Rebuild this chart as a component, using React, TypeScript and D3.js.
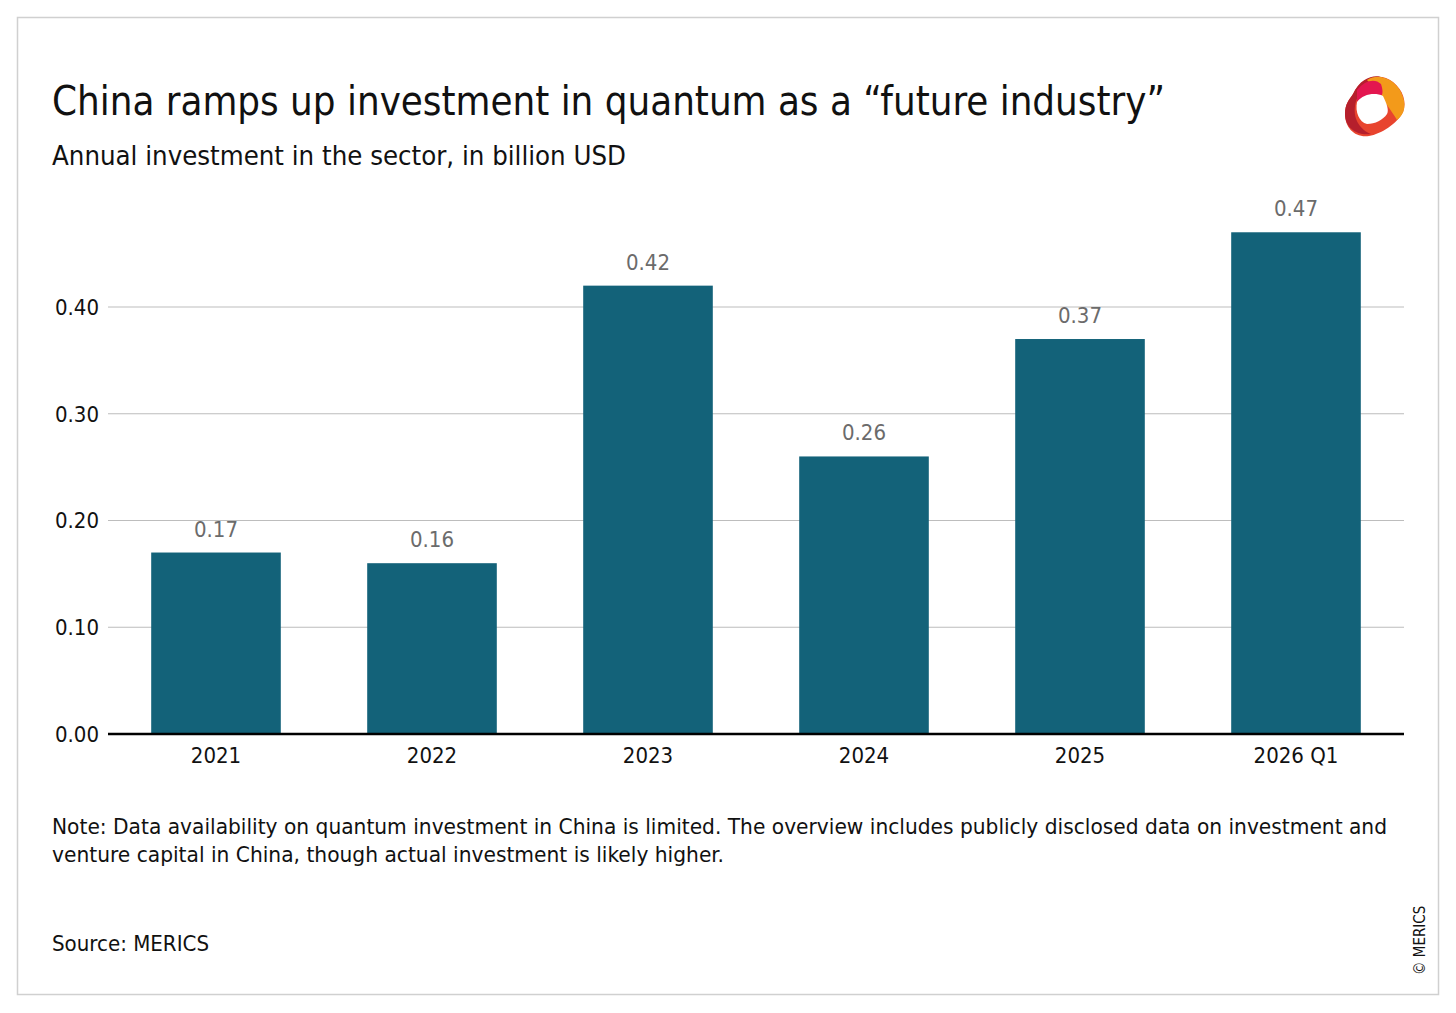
import { useEffect, useRef } from "react";
import * as d3 from "d3";

const categories = ["2021", "2022", "2023", "2024", "2025", "2026 Q1"];
const values = [0.17, 0.16, 0.42, 0.26, 0.37, 0.47];
const yTicks = [0, 0.1, 0.2, 0.3, 0.4];
const noteLines = [
  "Note: Data availability on quantum investment in China is limited. The overview includes publicly disclosed data on investment and",
  "venture capital in China, though actual investment is likely higher.",
];

const FONT = "'DejaVu Sans Condensed', 'Liberation Sans Narrow', 'Noto Sans', sans-serif";

export default function App() {
  const ref = useRef<SVGSVGElement | null>(null);

  useEffect(() => {
    if (!ref.current) return;
    const svg = d3.select(ref.current);
    svg.selectAll("*").remove();

    const W = 1456, H = 1013;
    const left = 108, right = 1404, bottom = 734;

    svg.append("rect").attr("width", W).attr("height", H).attr("fill", "#fff");
    svg.append("rect")
      .attr("x", 17.5).attr("y", 17.5).attr("width", 1421).attr("height", 977)
      .attr("fill", "none").attr("stroke", "#d0d0d0").attr("stroke-width", 1.5);

    const x = d3.scaleBand().domain(categories).range([left, right]).paddingInner(0.4).paddingOuter(0.2);
    const y = d3.scaleLinear().domain([0, 0.5]).range([bottom, bottom - 0.5 * 1067.5]);

    // gridlines
    svg.append("g").selectAll("line").data(yTicks.slice(1)).join("line")
      .attr("x1", left).attr("x2", right)
      .attr("y1", d => y(d)).attr("y2", d => y(d))
      .attr("stroke", "#bdbdbd").attr("stroke-width", 1.2);

    // y tick labels
    svg.append("g").selectAll("text").data(yTicks).join("text")
      .attr("x", 99).attr("y", d => y(d)).attr("dy", "0.36em")
      .attr("text-anchor", "end").attr("font-family", FONT).attr("font-size", 22).attr("fill", "#111")
      .text(d => d3.format(".2f")(d));

    // bars
    svg.append("g").selectAll("rect").data(values).join("rect")
      .attr("x", (_, i) => x(categories[i])!)
      .attr("width", x.bandwidth())
      .attr("y", d => y(d))
      .attr("height", d => y(0) - y(d))
      .attr("fill", "#136279");

    // value labels
    svg.append("g").selectAll("text").data(values).join("text")
      .attr("x", (_, i) => x(categories[i])! + x.bandwidth() / 2)
      .attr("y", d => y(d) - 16)
      .attr("text-anchor", "middle").attr("font-family", FONT).attr("font-size", 22).attr("fill", "#6b6b6b")
      .text(d => d3.format(".2f")(d));

    // baseline
    svg.append("line").attr("x1", left).attr("x2", right).attr("y1", y(0)).attr("y2", y(0))
      .attr("stroke", "#000").attr("stroke-width", 2.5);

    // x labels
    svg.append("g").selectAll("text").data(categories).join("text")
      .attr("x", d => x(d)! + x.bandwidth() / 2).attr("y", 763)
      .attr("text-anchor", "middle").attr("font-family", FONT).attr("font-size", 22).attr("fill", "#111")
      .text(d => d);

    // titles
    svg.append("text").attr("x", 52).attr("y", 115).attr("font-family", FONT).attr("font-size", 41)
      .attr("fill", "#111").attr("textLength", 1113).attr("lengthAdjust", "spacingAndGlyphs")
      .text("China ramps up investment in quantum as a \u201cfuture industry\u201d");
    svg.append("text").attr("x", 52).attr("y", 165).attr("font-family", FONT).attr("font-size", 27)
      .attr("fill", "#111").attr("textLength", 574).attr("lengthAdjust", "spacingAndGlyphs")
      .text("Annual investment in the sector, in billion USD");

    // note + source
    const noteLengths = [1335, 672];
    svg.append("g").selectAll("text").data(noteLines).join("text")
      .attr("x", 52).attr("y", (_, i) => 834 + i * 28)
      .attr("font-family", FONT).attr("font-size", 22).attr("fill", "#111")
      .attr("textLength", (_, i) => noteLengths[i]).attr("lengthAdjust", "spacingAndGlyphs")
      .text(d => d);
    svg.append("text").attr("x", 52).attr("y", 951).attr("font-family", FONT).attr("font-size", 22)
      .attr("fill", "#111").attr("textLength", 157).attr("lengthAdjust", "spacingAndGlyphs")
      .text("Source: MERICS");

    svg.append("text").attr("transform", "translate(1425,975) rotate(-90)")
      .attr("font-family", FONT).attr("font-size", 15).attr("fill", "#111")
      .text("\u00a9 MERICS");

    // logo
    const logo = svg.append("g").attr("transform", "translate(1375,106)");
    logo.append("path").attr("fill", "#e8442e")
      .attr("d", "M-22,-12 C-14,-30 6,-34 18,-24 C28,-16 32,-4 28,6 C22,18 6,28 -6,30 C-20,32 -30,22 -30,8 C-30,-2 -26,-6 -22,-12 Z");
    logo.append("path").attr("fill", "#b51f2c")
      .attr("d", "M-22,-12 C-14,-30 2,-32 8,-28 C-6,-24 -18,-14 -20,0 C-22,14 -14,24 -4,28 C-18,30 -30,22 -30,8 C-30,-2 -26,-6 -22,-12 Z");
    logo.append("path").attr("fill", "#f39a1a")
      .attr("d", "M-8,-26 C4,-34 20,-26 26,-14 C32,-2 30,8 22,14 C16,4 10,-4 6,-8 C2,-14 -2,-20 -8,-26 Z");
    logo.append("path").attr("fill", "#e3164f")
      .attr("d", "M-18,-16 C-10,-26 0,-28 6,-22 C8,-16 8,-12 6,-10 C-2,-12 -12,-10 -18,-4 Z");
    logo.append("path").attr("fill", "#fff")
      .attr("d", "M-18,-4 C-12,-12 0,-14 8,-10 C12,-2 14,4 12,8 C8,14 0,18 -8,18 C-16,16 -20,6 -18,-4 Z");
  }, []);

  return (
    <svg ref={ref} width={1456} height={1013}
      style={{ position: "absolute", left: 0, top: 0 }}
      role="img" aria-label="China quantum investment bar chart" />
  );
}
